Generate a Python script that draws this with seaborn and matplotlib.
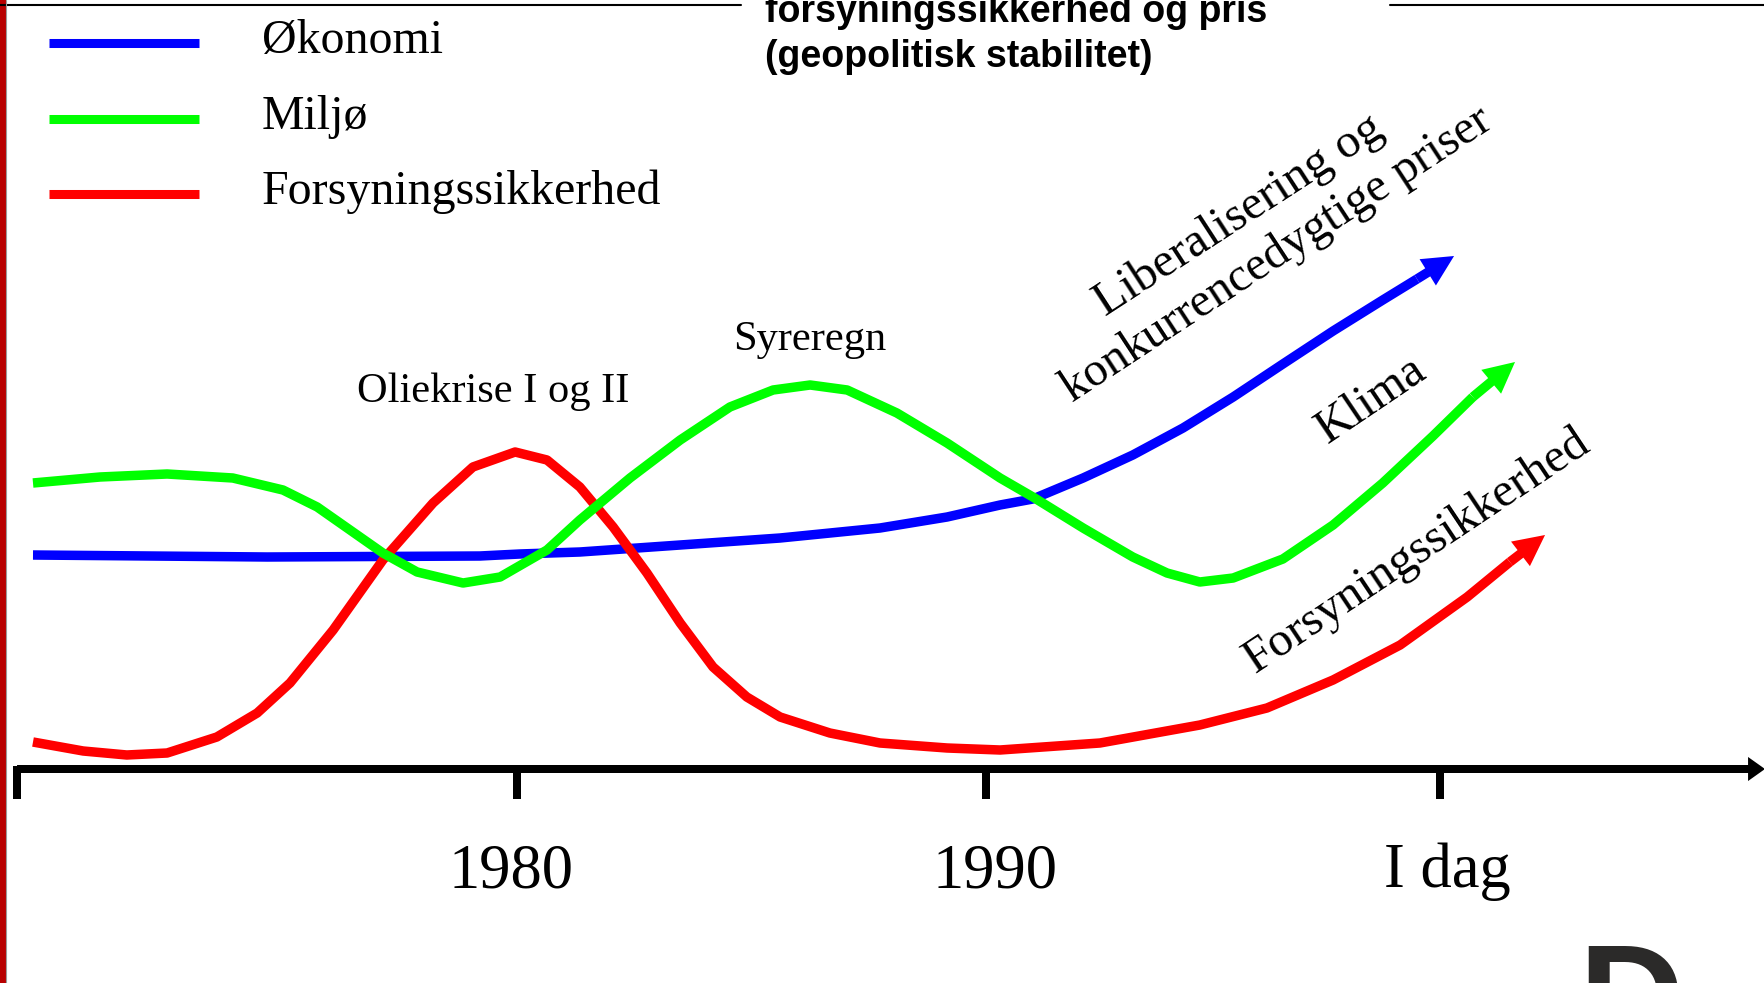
import numpy as np
import pandas as pd
import seaborn as sns
import matplotlib.pyplot as plt
from matplotlib.lines import Line2D
from matplotlib.patches import Rectangle

# ---------------- data ----------------
series_names = ["Økonomi", "Miljø", "Forsyningssikkerhed"]
series_colors = ["#0000ff", "#00ff00", "#ff0000"]

okonomi_years = [1969.68, 1974.67, 1979.21, 1980.06, 1981.34, 1983.48, 1985.61, 1987.74,
                 1989.17, 1990.30, 1991.00, 1992.07, 1993.13, 1994.20, 1995.27, 1996.33,
                 1997.40, 1998.46, 1999.19, 1999.98]
okonomi_level = [21.4, 21.2, 21.3, 21.5, 21.7, 22.4, 23.1, 24.1,
                 25.2, 26.4, 27.0, 29.1, 31.4, 34.1, 37.2, 40.5,
                 43.8, 46.9, 49.0, 51.3]

miljo_years = [1969.68, 1971.11, 1972.54, 1973.94, 1975.01, 1975.74, 1976.44, 1977.14,
               1977.87, 1978.85, 1979.64, 1980.64, 1981.34, 1982.41, 1983.48, 1984.54,
               1985.46, 1986.25, 1987.04, 1988.10, 1989.17, 1990.30, 1991.00, 1992.07,
               1993.13, 1993.86, 1994.56, 1995.27, 1996.33, 1997.40, 1998.46, 1999.53,
               2000.38, 2001.28]
miljo_level = [28.6, 29.2, 29.5, 29.1, 27.9, 26.2, 23.9, 21.6,
               19.7, 18.6, 19.2, 21.9, 24.9, 29.1, 32.9, 36.2,
               37.9, 38.4, 37.9, 35.6, 32.6, 29.1, 27.2, 24.1,
               21.2, 19.6, 18.7, 19.1, 21.0, 24.4, 28.6, 33.3,
               37.2, 40.7]

forsyning_years = [1969.68, 1970.75, 1971.68, 1972.54, 1973.60, 1974.46, 1975.16, 1976.08,
                   1977.14, 1978.21, 1979.06, 1979.96, 1980.64, 1981.34, 1982.05, 1982.77,
                   1983.48, 1984.18, 1984.90, 1985.61, 1986.67, 1987.74, 1989.17, 1990.30,
                   1992.43, 1994.56, 1995.99, 1997.40, 1998.83, 2000.26, 2001.17, 2001.92]
forsyning_level = [2.7, 1.8, 1.4, 1.6, 3.2, 5.6, 8.6, 13.9,
                   20.9, 26.6, 30.2, 31.7, 30.9, 28.2, 24.2, 19.6,
                   14.6, 10.2, 7.2, 5.2, 3.6, 2.6, 2.1, 1.9,
                   2.6, 4.4, 6.1, 8.9, 12.4, 17.2, 20.7, 23.4]

tick_years = [1980, 1990, 1999.68]
tick_labels = ["1980", "1990", "I dag"]
axis_start_year = 1969.34

event_labels = ["Oliekrise I og II", "Syreregn"]
trend_labels = ["Liberalisering og", "konkurrencedygtige priser", "Klima", "Forsyningssikkerhed"]
title_lines = ["forsyningssikkerhed og pris", "(geopolitisk stabilitet)"]

# ---------------- figure ----------------
sns.set_theme(style="white")
plt.rcParams["font.family"] = ["Liberation Serif", "DejaVu Serif"]

W, H = 1765, 983
fig = plt.figure(figsize=(W / 100, H / 100), dpi=100)
fig.patch.set_facecolor("white")
ax = fig.add_axes([0, 0, 1, 1])

PX_PER_YEAR, X_1980, Y_AXIS, PX_PER_UNIT = 46.9, 517, 769, 10.0


def year_of(xp):
    return 1980 + (xp - X_1980) / PX_PER_YEAR


def level_of(yp):
    return (Y_AXIS - yp) / PX_PER_UNIT


# curves (draw order: blue, red, green on top)
curves = [
    (okonomi_years, okonomi_level, series_colors[0]),
    (forsyning_years, forsyning_level, series_colors[2]),
    (miljo_years, miljo_level, series_colors[1]),
]
for xs, ys, col in curves:
    df = pd.DataFrame({"year": xs[:-1], "level": ys[:-1]})
    sns.lineplot(data=df, x="year", y="level", color=col, linewidth=6.84, ax=ax,
                 sort=False, estimator=None, solid_capstyle="butt", solid_joinstyle="round")
    ax.annotate("", xy=(xs[-1], ys[-1]), xytext=(xs[-2], ys[-2]),
                arrowprops=dict(arrowstyle="simple,head_length=1.0,head_width=1.0,tail_width=0.307",
                                mutation_scale=22.3, color=col, lw=0, shrinkA=0, shrinkB=0))
ax.set_xlim(year_of(0), year_of(W))
ax.set_ylim(level_of(H), level_of(0))
ax.axis("off")

# time axis
ax.annotate("", xy=(year_of(W), 0), xytext=(axis_start_year, 0), annotation_clip=False,
            arrowprops=dict(arrowstyle="simple,head_length=1.0,head_width=1.42,tail_width=0.472",
                            mutation_scale=12.2, color="black", lw=0, shrinkA=0, shrinkB=0))
ax.vlines([axis_start_year] + tick_years, level_of(799), 0.35, color="black", lw=5.76,
          capstyle="butt")
label_px = [511, 995, 1447]
for xp, lab in zip(label_px, tick_labels):
    ax.text(year_of(xp), level_of(887), lab, ha="center", va="baseline", fontsize=45,
            family="Liberation Serif", color="black")

# event labels
ax.text(year_of(493), level_of(402), event_labels[0], ha="center", va="baseline",
        fontsize=30.5, color="black")
ax.text(year_of(810), level_of(350), event_labels[1], ha="center", va="baseline",
        fontsize=30.5, color="black")

# rotated trend labels
rot_specs = [((1246, 226, 35.0), 33.0), ((1283, 265, 34.5), 33.2),
             ((1378, 410, 35.0), 34.0), ((1424, 561, 35.0), 33.7)]
for lab, ((xp, yp, fs), rot) in zip(trend_labels, rot_specs):
    ax.text(year_of(xp), level_of(yp), lab, rotation=rot, rotation_mode="anchor",
            ha="center", va="baseline", fontsize=fs, color="black")

# legend (manual, slide style)
leg_y = [43, 119, 194]
for name, col, yp in zip(series_names, series_colors, leg_y):
    fig.add_artist(Line2D([49 / W, 199 / W], [1 - yp / H, 1 - yp / H], color=col, lw=6.5,
                          solid_capstyle="butt"))
    fig.text(262 / W, 1 - (yp + 10) / H, name, fontsize=34.5, va="baseline", ha="left",
             family="Liberation Serif", color="black")

# title fragment at top
fig.text(765 / W, 1 - 22 / H, title_lines[0], fontsize=27, weight="bold",
         family="Liberation Sans", va="baseline", ha="left", color="black")
fig.text(765 / W, 1 - 67 / H, title_lines[1], fontsize=27, weight="bold",
         family="Liberation Sans", va="baseline", ha="left", color="black")

# top rules
fig.add_artist(Line2D([0, 741 / W], [1 - 5 / H, 1 - 5 / H], color="black", lw=1.5))
fig.add_artist(Line2D([1390 / W, 1], [1 - 5 / H, 1 - 5 / H], color="black", lw=1.5))

# left red bar
fig.add_artist(Rectangle((0, 0), 6 / W, 1, transform=fig.transFigure, color="#b80000", lw=0))
fig.add_artist(Line2D([6.5 / W, 6.5 / W], [0, 1], color="#9a9a9a", lw=0.8))

# logo fragment (cut off at bottom)
fig.text(1578 / W, 1 - 1047 / H, "D", fontsize=105, weight="bold", family="Liberation Sans",
         color="#2b2a29", va="baseline", ha="left")

fig.savefig("out.png", dpi=100, facecolor="white")
